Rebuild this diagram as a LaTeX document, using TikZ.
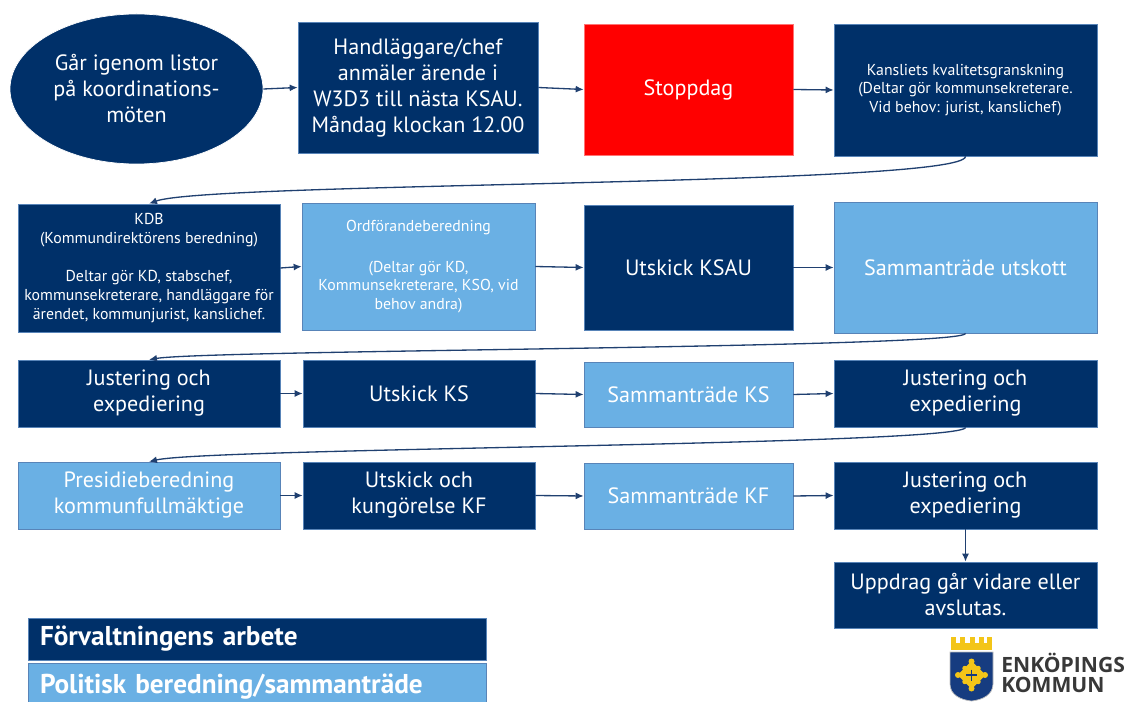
\documentclass[tikz,border=0pt]{standalone}
\usepackage{fontspec}
\setmainfont{PT Sans}
\newfontfamily\logofont{Open Sans}
\usetikzlibrary{positioning,arrows.meta,shapes.geometric}
\definecolor{navy-blue}{RGB}{0,48,105}
\definecolor{light-blue}{RGB}{106,176,228}
\definecolor{box-line}{RGB}{88,132,184}
\definecolor{arrow-blue}{RGB}{32,64,112}
\definecolor{crown-yellow}{RGB}{243,197,24}
\definecolor{shield-blue}{RGB}{22,60,128}
\definecolor{logo-gray}{RGB}{56,56,56}
\newdimen\flowunit
\setlength{\flowunit}{0.02cm}
\tikzstyle{darkstyle}=[shape=rectangle,fill=navy-blue,draw=box-line,text=white,align=center,inner sep=0pt]
\tikzstyle{lightstyle}=[shape=rectangle,fill=light-blue,draw=box-line,text=white,align=center,inner sep=0pt]
\tikzstyle{stopstyle}=[shape=rectangle,fill=red,draw=red!55,text=white,align=center,inner sep=0pt]
\tikzstyle{ovalstyle}=[shape=ellipse,fill=navy-blue,draw=white,text=white,align=center,inner sep=0pt]
\tikzstyle{bigstyle}=[font=\fontsize{12.6}{14.8}\selectfont]
\tikzstyle{smallstyle}=[font=\fontsize{9}{10.7}\selectfont]
\tikzstyle{keystyle}=[shape=rectangle,draw=box-line,text=white,align=left,inner sep=0pt,inner xsep=12\flowunit,text width=434\flowunit,font=\fontsize{15.5}{17}\selectfont\bfseries]
\tikzstyle{arrowstyle}=[draw=arrow-blue,line width=0.75pt,-{Latex[length=1.6mm,width=1.4mm]}]
\tikzstyle{logostyle}=[anchor=west,align=left,inner sep=0pt,text=logo-gray,font=\logofont\fontsize{12}{11.4}\selectfont\bfseries]
\newcommand{\flowbox}[7]{ \draw (#3,#4) node [style=#2,minimum width=#5\flowunit,minimum height=#6\flowunit] (#1) {#7}; }
\newcommand{\flowstep}[2]{ \draw [style=arrowstyle] (#1.east) -- (#2.west); }
\newcommand{\flowturn}[4]{ \draw [style=arrowstyle] (#1.south) .. controls +(0,#3) and +(60,-#4) .. (#2.north); }

\begin{document}
\begin{tikzpicture}[x=0.02cm,y=-0.02cm]
\useasboundingbox (0,0) rectangle (1126,702);
% row 1
\flowbox{oval}{ovalstyle,bigstyle}{136.5}{89}{253}{150}{Går igenom listor\\på koordinations-\\möten} %
\flowbox{anmal}{darkstyle,bigstyle}{418}{87.5}{240}{131}{Handläggare/chef\\anmäler ärende i\\W3D3 till nästa KSAU.\\Måndag klockan 12.00} %
\flowbox{stopp}{stopstyle,bigstyle}{688.5}{89.5}{209}{131}{Stoppdag} %
\flowbox{kansli}{darkstyle,smallstyle}{965.5}{90}{263}{132}{Kansliets kvalitetsgranskning\\(Deltar gör kommunsekreterare.\\Vid behov: jurist, kanslichef)} %
% row 2
\flowbox{kdb}{darkstyle,smallstyle}{149}{268}{262}{128}{KDB\\(Kommundirektörens beredning)\\[1.2em]Deltar gör KD, stabschef,\\kommunsekreterare, handläggare för\\ärendet, kommunjurist, kanslichef.} %
\flowbox{ordf}{lightstyle,smallstyle}{418.5}{266.5}{233}{127}{Ordförandeberedning\\[1.4em](Deltar gör KD,\\Kommunsekreterare, KSO, vid\\behov andra)} %
\flowbox{utksau}{darkstyle,bigstyle}{688.5}{267.5}{209}{125}{Utskick KSAU} %
\flowbox{samutsk}{lightstyle,bigstyle}{965.5}{267.5}{263}{131}{Sammanträde utskott} %
% row 3
\flowbox{justa}{darkstyle,bigstyle}{149}{393.5}{262}{67}{Justering och\\expediering} %
\flowbox{utks}{darkstyle,bigstyle}{419}{393.5}{232}{67}{Utskick KS} %
\flowbox{samks}{lightstyle,bigstyle}{688.5}{394.5}{209}{65}{Sammanträde KS} %
\flowbox{justb}{darkstyle,bigstyle}{965.5}{393.5}{263}{67}{Justering och\\expediering} %
% row 4
\flowbox{presid}{lightstyle,bigstyle}{149}{495.5}{262}{67}{Presidieberedning\\kommunfullmäktige} %
\flowbox{utkf}{darkstyle,bigstyle}{419}{495.5}{232}{67}{Utskick och\\kungörelse KF} %
\flowbox{samkf}{lightstyle,bigstyle}{688.5}{496}{209}{66}{Sammanträde KF} %
\flowbox{justc}{darkstyle,bigstyle}{965.5}{495.5}{263}{67}{Justering och\\expediering} %
\flowbox{uppdrag}{darkstyle,bigstyle}{965.5}{595}{263}{66}{Uppdrag går vidare eller\\avslutas.} %
% connectors
\flowstep{oval}{anmal} %
\flowstep{anmal}{stopp} %
\flowstep{stopp}{kansli} %
\flowturn{kansli}{kdb}{30}{22} %
\flowstep{kdb}{ordf} %
\flowstep{ordf}{utksau} %
\flowstep{utksau}{samutsk} %
\flowturn{samutsk}{justa}{15}{10} %
\flowstep{justa}{utks} %
\flowstep{utks}{samks} %
\flowstep{samks}{justb} %
\flowturn{justb}{presid}{18}{14} %
\flowstep{presid}{utkf} %
\flowstep{utkf}{samkf} %
\flowstep{samkf}{justc} %
\draw [style=arrowstyle] (justc.south) -- (uppdrag.north); %
% legend
\flowbox{keyforv}{keystyle,fill=navy-blue}{257}{639}{458}{42}{Förvaltningens arbete} %
\flowbox{keypol}{keystyle,fill=light-blue}{257}{686.5}{458}{47}{Politisk beredning/sammanträde} %
% logo
\fill [crown-yellow] (951,643) rectangle (992,650);
\foreach \cx in {951,960,969.5,978.5,987} \fill [crown-yellow] (\cx,637) rectangle ++(5,6);
\filldraw [fill=shield-blue,draw=gray!50] (950,652) -- (993,652) -- (993,684) .. controls (993,695) and (982,700) .. (971.5,701) .. controls (961,700) and (950,695) .. (950,684) -- cycle;
\fill [crown-yellow] (971.5,661) -- (985.5,675) -- (971.5,689) -- (957.5,675) -- cycle;
\foreach \ang in {0,90,180,270} \fill [crown-yellow,rotate around={\ang:(971.5,675)}] (985,675) circle [radius=3\flowunit];
\foreach \ang in {45,135,225,315} \fill [crown-yellow,rotate around={\ang:(971.5,675)}] (981,675) circle [radius=2.5\flowunit];
\draw [shield-blue,line width=0.6pt] (966,675) -- (977,675) (971.5,669.5) -- (971.5,680.5);
\node [style=logostyle] (logoname) at (1001,672.5) {ENKÖPINGS\\KOMMUN};
\end{tikzpicture}
\end{document}
